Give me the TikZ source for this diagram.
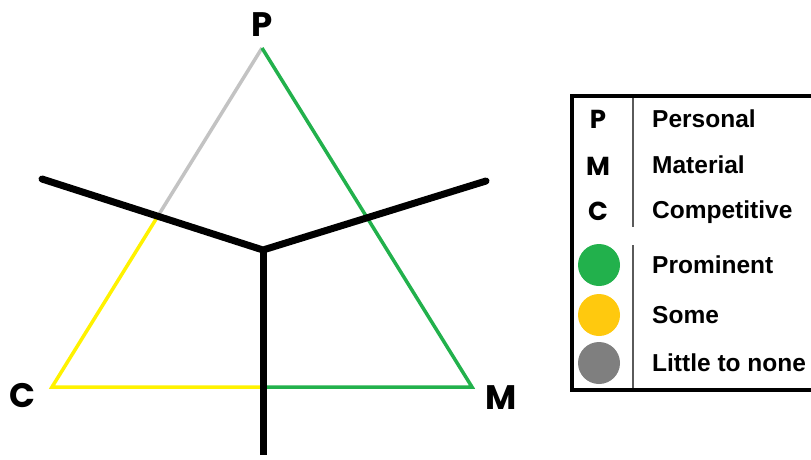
\documentclass[tikz,border=0pt]{standalone}
\usepackage{fontspec}
\setmainfont{Liberation Sans}
\newfontfamily\cornerfont{Poppins}
\usetikzlibrary{positioning}
\definecolor{triGreen}{RGB}{34,177,76}
\definecolor{triYellow}{RGB}{255,242,0}
\definecolor{triGray}{RGB}{195,195,195}
\definecolor{legYellow}{RGB}{255,201,14}
\definecolor{legGray}{RGB}{127,127,127}
\definecolor{divGray}{RGB}{90,90,90}
\tikzset{
  corner/.style={font=\cornerfont\bfseries\fontsize{34}{36}\selectfont,
    inner sep=0pt},
  side/.style={line width=3.5pt},
  axis/.style={line width=7pt, line cap=round},
  legbox/.style={draw=black, line width=4pt},
  divider/.style={draw=divGray, line width=1.5pt},
  legtext/.style={font=\bfseries\fontsize{24.5}{26}\selectfont,
    anchor=base west, inner sep=0pt},
  legletter/.style={font=\cornerfont\bfseries\fontsize{26}{28}\selectfont,
    anchor=base, inner sep=0pt},
  dot/.style={circle, minimum size=42pt, inner sep=0pt}
}

\begin{document}
\begin{tikzpicture}[x=1pt, y=-1pt]
\useasboundingbox (0,0) rectangle (811,459);
\clip (0,0) rectangle (811,459);

% triangle corners
\coordinate (vP) at (262,48);
\coordinate (vC) at (52,387);
\coordinate (vM) at (472,387);

% the three-armed divider
\coordinate (hub)   at (263,250);
\coordinate (armL)  at (42,179);
\coordinate (armR)  at (486,181);
\coordinate (armB)  at (263,455);

\coordinate (cutL) at (intersection of vP--vC and armL--hub);
\coordinate (cutB) at (intersection of vC--vM and hub--armB);

\node[corner] (labP) at (262,25)  {P};
\node[corner] (labC) at (22,396)  {C};
\node[corner] (labM) at (501,398) {M};

\draw[side, triGray]   (vP) -- (cutL);
\draw[side, triYellow] (cutL) -- (vC) -- (cutB);
\draw[side, triGreen]  (cutB) -- (vM) -- (vP);

\draw[axis] (armL) -- (hub) -- (armR);
\draw[axis, line cap=butt] (hub) -- (armB);

% legend
\draw[legbox] (572,96) rectangle (830,390);
\draw[divider] (633,98) -- (633,227);
\draw[divider] (633,245) -- (633,388);

\node[legletter] (keyP) at (598,128) {P};
\node[legletter] (keyM) at (598,175) {M};
\node[legletter] (keyC) at (598,220) {C};
\node[legtext] (txtP) at (652,127) {Personal};
\node[legtext] (txtM) at (652,173) {Material};
\node[legtext] (txtC) at (652,218) {Competitive};

\node[dot, fill=triGreen]  (dotHi)  at (599,265) {};
\node[dot, fill=legYellow] (dotMid) at (599,315) {};
\node[dot, fill=legGray]   (dotLo)  at (599,363) {};
\node[legtext] (txtHi)  at (652,273) {Prominent};
\node[legtext] (txtMid) at (652,323) {Some};
\node[legtext] (txtLo)  at (652,371) {Little to none};
\end{tikzpicture}
\end{document}
